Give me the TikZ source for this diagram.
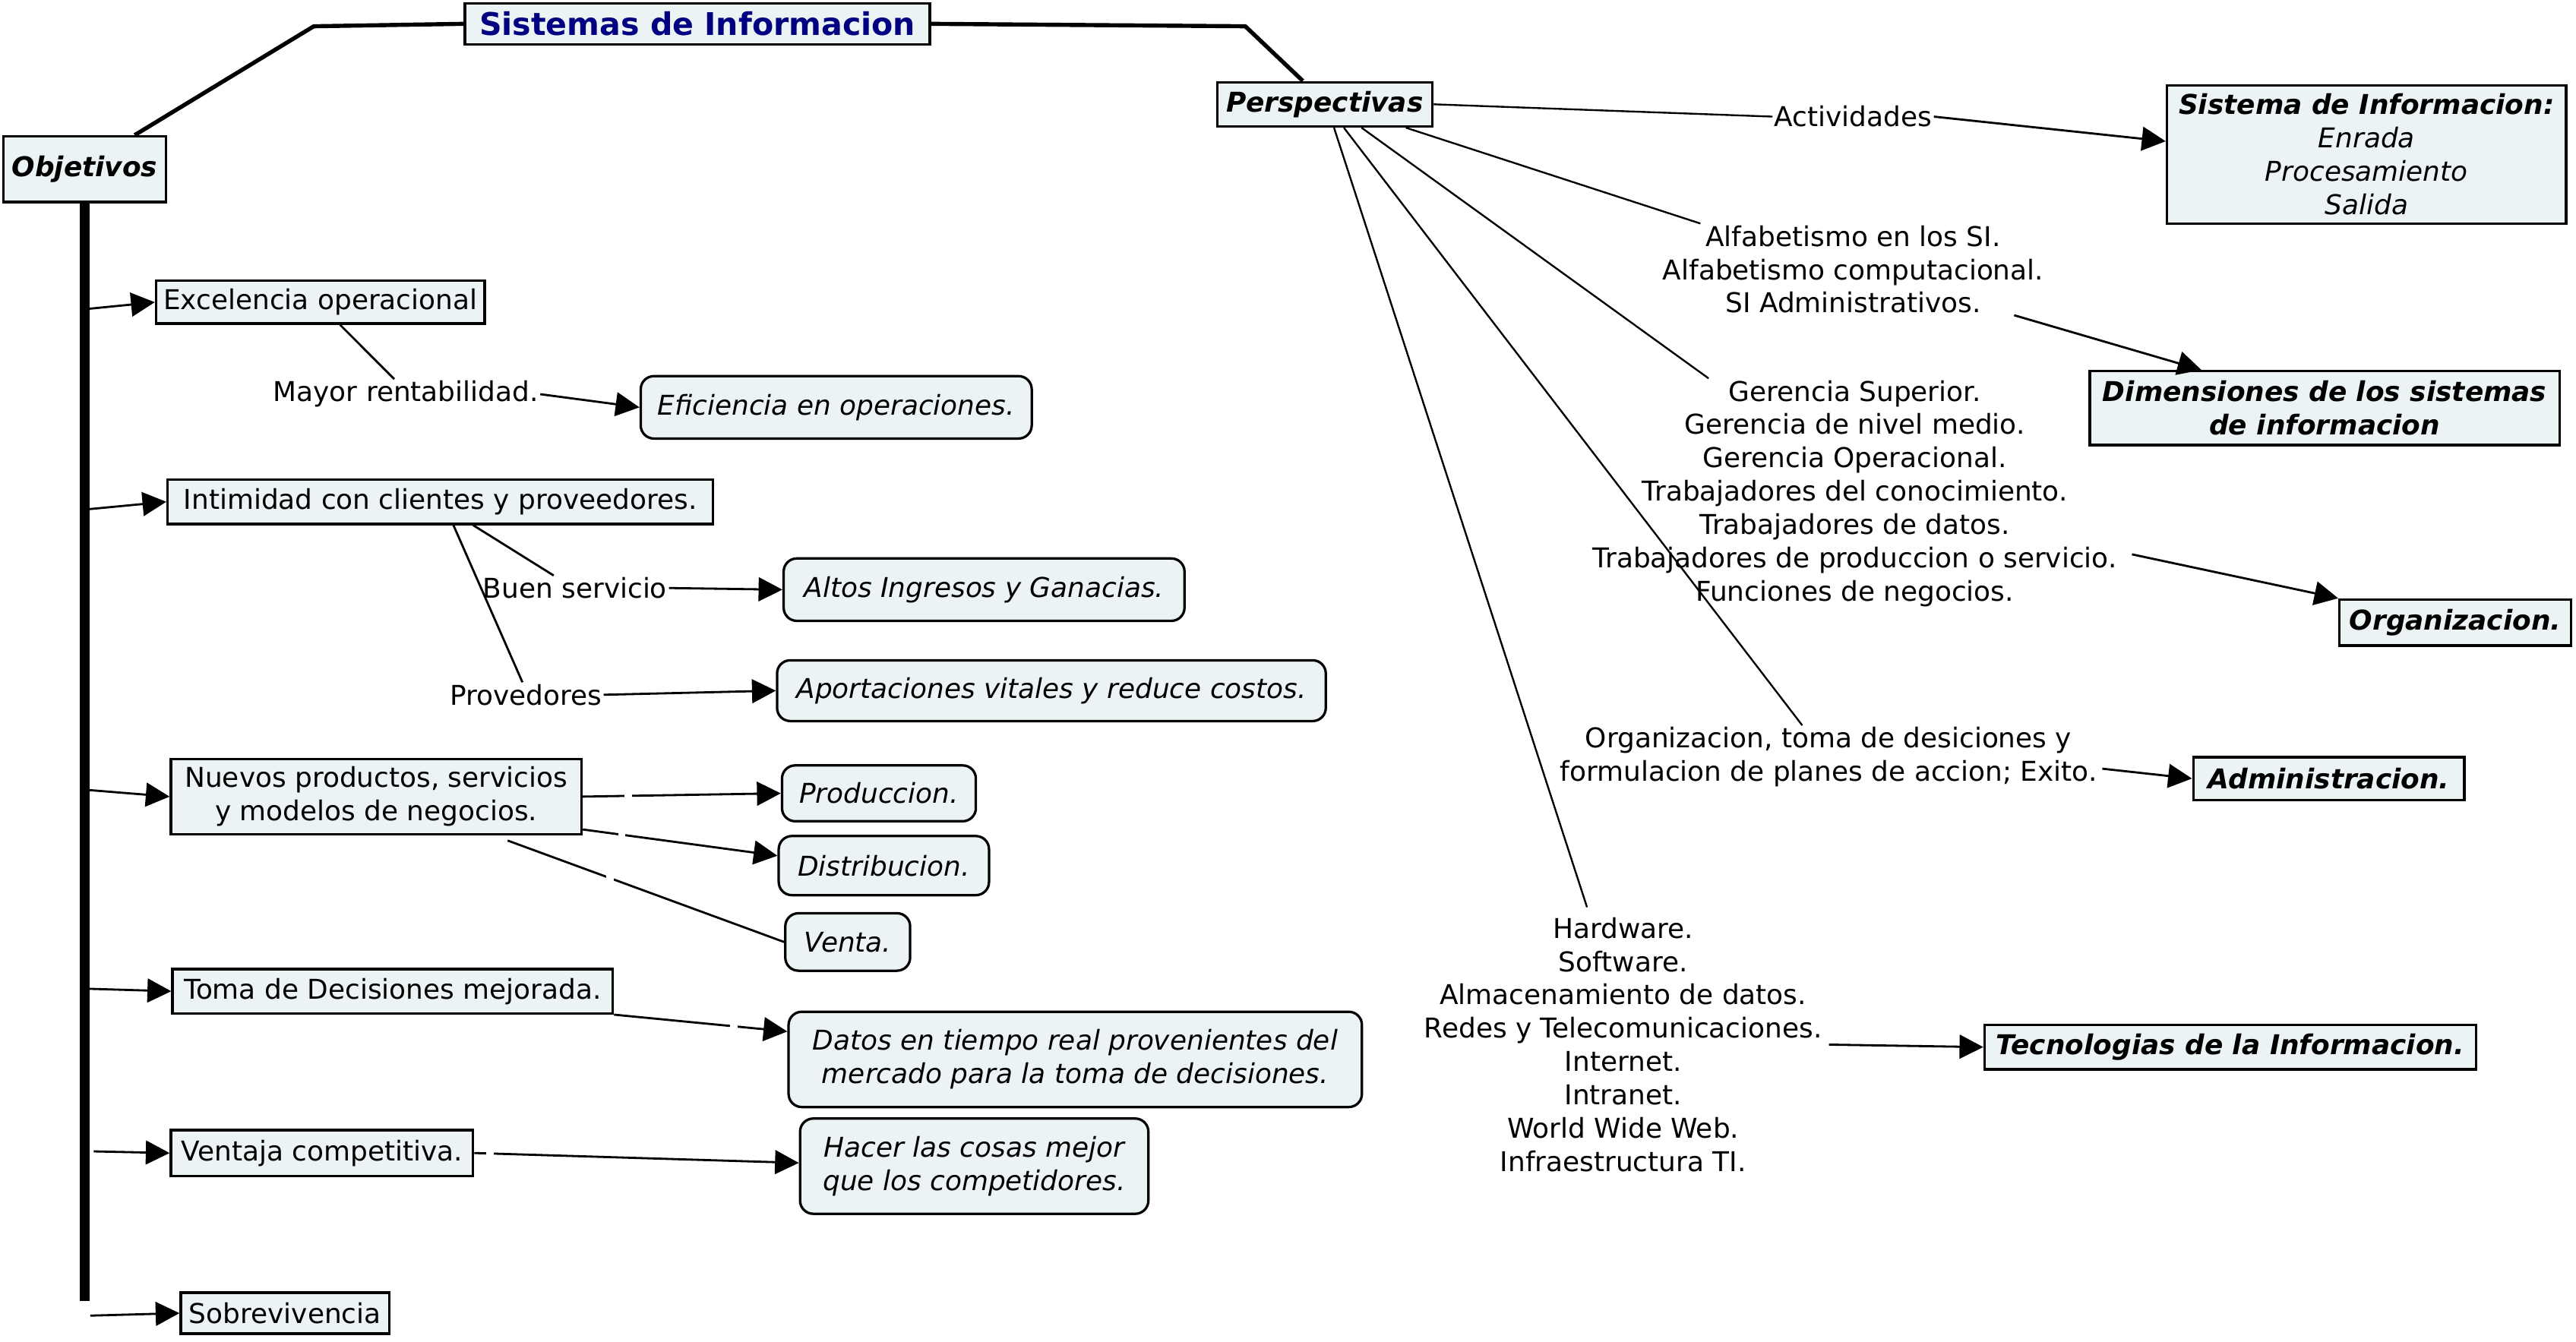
\documentclass[tikz,border=0pt]{standalone}
\usepackage{fontspec}
\setmainfont{DejaVu Sans}
\usetikzlibrary{arrows.meta,calc}
\definecolor{boxfill}{RGB}{235,243,245}
\definecolor{titleblue}{RGB}{0,0,128}
\newcommand\mapfont{\fontsize{16.6pt}{20.3pt}\selectfont}

\tikzset{
  box/.style={draw, line width=1.5pt, fill=boxfill, inner sep=0pt, align=center},
  rbox/.style={box, rounded corners=8pt, font=\mapfont\itshape},
  headbox/.style={box, font=\mapfont\bfseries\itshape},
  lbl/.style={inner sep=1pt, align=center},
  arr/.style={line width=1.3pt, -{Triangle[length=14.5pt,width=14.5pt]}},
  link/.style={line width=1.3pt},
  thinlink/.style={line width=1.1pt},
  trunk/.style={line width=2.5pt, line join=bevel},
  gapmark/.style={fill=white, inner sep=0pt, minimum width=4.5pt, minimum height=4.5pt}
}

\begin{document}
\begin{tikzpicture}[x=1pt, y=-1pt, font=\mapfont]
\useasboundingbox (0,0) rectangle (1568,816.6);

% ---------- main nodes ----------
\node[box, minimum width=283pt, minimum height=25pt, text=titleblue,
      font=\fontsize{19pt}{23pt}\selectfont\bfseries] (title) at (424.5,14.5) {Sistemas de Informacion};
\node[headbox, minimum width=99pt, minimum height=40pt] (obj) at (51.5,103) {Objetivos};
\node[headbox, minimum width=131pt, minimum height=27pt] (per) at (806.5,63.5) {Perspectivas};

% ---------- objectives ----------
\node[box, minimum width=200pt, minimum height=26pt] (exc) at (195,184) {Excelencia operacional};
\node[box, minimum width=332pt, minimum height=27pt] (int) at (268,305.5) {Intimidad con clientes y proveedores.};
\node[box, minimum width=250pt, minimum height=46pt] (nue) at (229,485) {Nuevos productos, servicios\\y modelos de negocios.};
\node[box, minimum width=268pt, minimum height=27pt] (tom) at (239,603.5) {Toma de Decisiones mejorada.};
\node[box, minimum width=184pt, minimum height=28pt] (ven) at (196,702) {Ventaja competitiva.};
\node[box, minimum width=127pt, minimum height=25pt] (sob) at (173.5,799.5) {Sobrevivencia};

% ---------- results ----------
\node[rbox, minimum width=238pt, minimum height=38pt] (efi) at (509,248) {Eficiencia en operaciones.};
\node[rbox, minimum width=244pt, minimum height=38pt] (alt) at (599,359) {Altos Ingresos y Ganacias.};
\node[rbox, minimum width=334pt, minimum height=37pt] (apo) at (640,420.5) {Aportaciones vitales y reduce costos.};
\node[rbox, minimum width=118pt, minimum height=34pt] (pro) at (535,483) {Produccion.};
\node[rbox, minimum width=128pt, minimum height=36pt] (dis) at (538,527) {Distribucion.};
\node[rbox, minimum width=76pt, minimum height=35pt] (vta) at (516,573.5) {Venta.};
\node[rbox, minimum width=349pt, minimum height=58pt] (dat) at (654.5,645) {Datos en tiempo real provenientes del\\mercado para la toma de decisiones.};
\node[rbox, minimum width=212pt, minimum height=58pt] (hac) at (593,710) {Hacer las cosas mejor\\que los competidores.};

% ---------- labels on the left ----------
\node[lbl] (mayor) at (247,240) {Mayor rentabilidad.};
\node[lbl] (buen) at (350,358) {Buen servicio};
\node[lbl] (prov) at (320,423) {Provedores};

% ---------- perspectives ----------
\node[box, font=\mapfont\itshape, minimum width=243pt, minimum height=84pt] (sis) at (1440.5,94)
  {\textbf{Sistema de Informacion:}\\Enrada\\Procesamiento\\Salida};
\node[headbox, minimum width=286pt, minimum height=45pt] (dim) at (1415,248.5) {Dimensiones de los sistemas\\de informacion};
\node[headbox, minimum width=141pt, minimum height=28pt] (org) at (1494.5,379) {Organizacion.};
\node[headbox, minimum width=165pt, minimum height=26pt] (adm) at (1417.5,474) {Administracion.};
\node[headbox, minimum width=299pt, minimum height=27pt] (tec) at (1357.5,637.5) {Tecnologias de la Informacion.};

\node[lbl] (act) at (1128,71) {Actividades};
\node[lbl] (alf) at (1128,164) {Alfabetismo en los SI.\\Alfabetismo computacional.\\SI Administrativos.};
\node[lbl] (ger) at (1129,300.5) {Gerencia Superior.\\Gerencia de nivel medio.\\Gerencia Operacional.\\Trabajadores del conocimiento.\\Trabajadores de datos.\\Trabajadores de produccion o servicio.\\Funciones de negocios.};
\node[lbl] (orgl) at (1113,461) {Organizacion, toma de desiciones y\\formulacion de planes de accion; Exito.};
\node[lbl] (hw) at (988,636) {Hardware.\\Software.\\Almacenamiento de datos.\\Redes y Telecomunicaciones.\\Internet.\\Intranet.\\World Wide Web.\\Infraestructura TI.};

% ---------- top links ----------
\coordinate (tl) at (191,16);
\coordinate (tr) at (758,16);
\draw[trunk] (title.west) -- (tl) -- ($(obj.north)+(30.5,0)$);
\draw[trunk] (title.east) -- (tr) -- ($(per.north)+(-13.5,0)$);

% ---------- spine of objectives ----------
\coordinate (spend) at (51.5,792);
\draw[line width=6pt] (obj.south) -- (spend);
\coordinate (s1) at (54,188);
\coordinate (s2) at (54,310);
\coordinate (s3) at (54,481);
\coordinate (s4) at (54,602);
\coordinate (s5) at (57,701);
\coordinate (s6) at (55,801);
\draw[arr] (s1) -- (exc.west);
\draw[arr] (s2) -- (int.west);
\draw[arr] (s3) -- (nue.west);
\draw[arr] (s4) -- (tom.west);
\draw[arr] (s5) -- (ven.west);
\draw[arr] (s6) -- (sob.west);

% ---------- objective details ----------
\draw[link] ($(exc.south)+(12,0)$) -- ($(mayor.north)+(-7,0)$);
\draw[arr] (mayor.east) -- (efi.west);
\draw[link] ($(int.south)+(20,0)$) -- ($(buen.north)+(-13,0)$);
\draw[link] ($(int.south)+(8,0)$) -- ($(prov.north)+(-2,0)$);
\draw[arr] (buen.east) -- (alt.west);
\draw[arr] (prov.east) -- (apo.west);
\draw[arr] (nue.east) -- node[gapmark, pos=0.23] {} (pro.west);
\draw[arr] ($(nue.east)+(0,20)$) -- node[gapmark, pos=0.2] {} ($(dis.west)+(0,-6)$);
\draw[link] ($(nue.south)+(80,3)$) -- node[gapmark, pos=0.37] {} (vta.west);
\draw[arr] (tom.south east) -- node[gapmark, pos=0.69] {} ($(dat.west)+(0,-17)$);
\draw[arr] (ven.east) -- node[gapmark, pos=0.048] {} ($(hac.west)+(0,-2)$);

% ---------- perspective details ----------
\draw[thinlink] (per.east) -- (act.west);
\draw[arr] (act.east) -- ($(sis.west)+(0,-8)$);
\draw[thinlink] ($(per.south east)+(-17,0)$) -- ($(alf.north)+(-93,0)$);
\draw[arr] ($(alf.south)+(98,0)$) -- ($(dim.north)+(-75,0)$);
\draw[thinlink] ($(per.south east)+(-44,0)$) -- ($(ger.north)+(-89,0)$);
\draw[arr] ($(ger.east)+(8,37)$) -- (org.north west);
\draw[thinlink] ($(per.south)+(11.5,0)$) -- ($(orgl.north)+(-16,0)$);
\draw[arr] ($(orgl.east)+(2,7)$) -- (adm.west);
\draw[thinlink] ($(per.south)+(5.5,0)$) -- ($(hw.north)+(-22,-5)$);
\draw[arr] ($(hw.east)+(3,0)$) -- (tec.west);
\end{tikzpicture}
\end{document}
